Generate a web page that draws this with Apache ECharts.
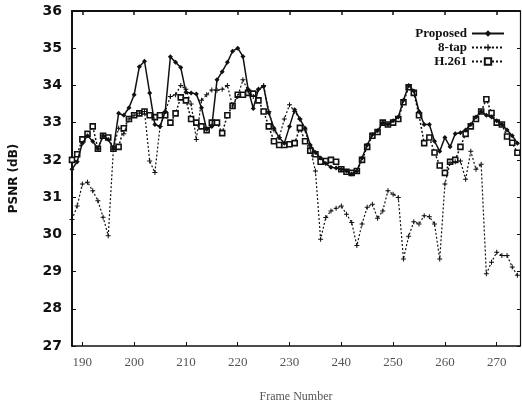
<!DOCTYPE html>
<html>
<head>
<meta charset="utf-8">
<script src="https://cdn.jsdelivr.net/npm/echarts@6/dist/echarts.min.js"></script>
<style>
  html, body { margin: 0; padding: 0; background: #fff; }
  #chart { width: 522px; height: 408px; }
</style>
</head>
<body>
<div id="chart"></div>
<script>
const frames = [
  188, 189, 190, 191, 192, 193, 194, 195, 196, 197,
  198, 199, 200, 201, 202, 203, 204, 205, 206, 207,
  208, 209, 210, 211, 212, 213, 214, 215, 216, 217,
  218, 219, 220, 221, 222, 223, 224, 225, 226, 227,
  228, 229, 230, 231, 232, 233, 234, 235, 236, 237,
  238, 239, 240, 241, 242, 243, 244, 245, 246, 247,
  248, 249, 250, 251, 252, 253, 254, 255, 256, 257,
  258, 259, 260, 261, 262, 263, 264, 265, 266, 267,
  268, 269, 270, 271, 272, 273, 274
];

const proposed = [
  31.75, 31.95, 32.45, 32.65, 32.5, 32.3, 32.65, 32.55, 32.3, 33.25,
  33.2, 33.4, 33.75, 34.5, 34.65, 33.8, 32.95, 32.9, 33.3, 34.77,
  34.62, 34.48, 33.82, 33.8, 33.77, 33.4, 32.82, 32.9, 34.15, 34.37,
  34.62, 34.92, 35.0, 34.78, 33.9, 33.38, 33.9, 33.97, 33.26, 32.85,
  32.6, 32.45, 32.9, 33.35, 33.1, 32.85, 32.4, 32.2, 32.05, 31.9,
  31.8, 31.78, 31.75, 31.7, 31.62, 31.7, 32.05, 32.4, 32.68, 32.78,
  33.0, 32.95, 33.05, 33.15, 33.6, 34.0, 33.85, 33.3, 32.95, 32.95,
  32.5, 32.23, 32.6, 32.35, 32.7, 32.73, 32.8, 32.95, 33.15, 33.3,
  33.2, 33.15, 33.05, 32.95, 32.8, 32.65, 32.45
];

const eightTap = [
  30.4, 30.76, 31.35, 31.4, 31.17, 30.9, 30.46, 29.96, 32.3, 32.85,
  32.7, 33.1, 33.2, 33.25, 33.3, 31.97, 31.66, 32.9, 33.3, 33.7,
  33.75, 34.0, 33.9, 33.5, 32.55, 33.6, 33.75, 33.88, 33.87, 33.9,
  34.0, 33.45, 33.7, 34.15, 33.85, 33.7, 33.9, 34.0, 33.3, 32.8,
  32.6, 33.1, 33.48, 33.3, 33.1, 32.8, 32.3, 31.7, 29.87, 30.45,
  30.63, 30.7, 30.76, 30.54, 30.32, 29.7, 30.28, 30.73, 30.81, 30.43,
  30.63, 31.17, 31.08, 30.99, 29.34, 29.95, 30.34, 30.28, 30.5, 30.47,
  30.28, 29.34, 31.35, 31.92, 31.95, 31.97, 31.48, 32.23, 31.75, 31.88,
  28.94, 29.25, 29.52, 29.43, 29.43, 29.12, 28.9
];

const h261 = [
  32.0, 32.15, 32.55, 32.7, 32.9, 32.3, 32.65, 32.6, 32.3, 32.35,
  32.85, 33.1, 33.2, 33.25, 33.3, 33.2, 33.15, 33.2, 33.2, 33.0,
  33.25, 33.68, 33.6, 33.1, 33.0, 32.9, 32.8, 33.0, 33.0, 32.72,
  33.2, 33.45, 33.75, 33.75, 33.8, 33.78, 33.6, 33.3, 32.9, 32.5,
  32.4, 32.4, 32.42, 32.45, 32.86, 32.5, 32.25, 32.15, 31.95, 31.97,
  32.0, 31.95, 31.75, 31.68, 31.65, 31.7, 32.0, 32.35, 32.65, 32.75,
  33.0, 32.95, 33.0, 33.1, 33.55, 33.95, 33.8, 33.2, 32.45, 32.6,
  32.2, 31.85, 31.65, 31.95, 32.0, 32.35, 32.7, 32.9, 33.1, 33.3,
  33.63, 33.26, 33.0, 32.95, 32.63, 32.46, 32.19
];

const xTicks = [190, 200, 210, 220, 230, 240, 250, 260, 270];

const pair = (ys) => frames.map((f, i) => [f, ys[i]]);
const plusPath = 'path://M4,0h2v4h4v2h-4v4h-2v-4h-4v-2h4z';

const chart = echarts.init(document.getElementById('chart'), null, { renderer: 'canvas' });

chart.setOption({
  animation: false,
  backgroundColor: '#fff',
  grid: { left: 72, right: 2, top: 11, bottom: 60, containLabel: false },
  legend: {
    orient: 'vertical',
    right: 12,
    top: 22,
    align: 'right',
    itemWidth: 32,
    itemHeight: 8,
    itemGap: 1,
    textStyle: { fontFamily: 'Liberation Serif', fontWeight: 'bold', fontSize: 13, color: '#111' },
    data: ['Proposed', '8-tap', 'H.261']
  },
  xAxis: [
    {
      type: 'value', min: 188, max: 274.5, position: 'bottom',
      name: 'Frame Number', nameLocation: 'middle', nameGap: 45,
      nameTextStyle: { fontFamily: 'Liberation Serif', fontSize: 12, color: '#555' },
      axisLine: { show: true, lineStyle: { color: '#111', width: 1.6 } },
      axisTick: { inside: true, length: 4, customValues: xTicks, lineStyle: { color: '#111' } },
      axisLabel: { customValues: xTicks, margin: 10, fontFamily: 'Liberation Serif', fontSize: 13, color: '#555' },
      splitLine: { show: false }
    },
    {
      type: 'value', min: 188, max: 274.5, position: 'top',
      axisLine: { show: true, lineStyle: { color: '#111', width: 2 } },
      axisTick: { inside: true, length: 4, customValues: xTicks, lineStyle: { color: '#111', width: 1.5 } },
      axisLabel: { show: false },
      splitLine: { show: false }
    }
  ],
  yAxis: [
    {
      type: 'value', min: 27, max: 36, interval: 1, position: 'left',
      name: 'PSNR (dB)', nameLocation: 'middle', nameGap: 52,
      nameTextStyle: { fontFamily: 'DejaVu Sans', fontWeight: 'bold', fontSize: 12, color: '#111' },
      axisLine: { show: true, lineStyle: { color: '#111', width: 2 } },
      axisTick: { inside: true, length: 4, lineStyle: { color: '#111' } },
      axisLabel: { margin: 10, fontFamily: 'DejaVu Sans', fontWeight: 'bold', fontSize: 14, color: '#111' },
      splitLine: { show: false }
    },
    {
      type: 'value', min: 27, max: 36, interval: 1, position: 'right',
      axisLine: { show: true, lineStyle: { color: '#111', width: 1.2 } },
      axisTick: { inside: true, length: 3, lineStyle: { color: '#111' } },
      axisLabel: { show: false },
      splitLine: { show: false }
    }
  ],
  series: [
    {
      name: 'Proposed', type: 'line', data: pair(proposed),
      symbol: 'diamond', symbolSize: 5,
      lineStyle: { color: '#111', width: 1.5, type: 'solid' },
      itemStyle: { color: '#111' },
      z: 4
    },
    {
      name: '8-tap', type: 'line', data: pair(eightTap),
      symbol: plusPath, symbolSize: 5,
      lineStyle: { color: '#111', width: 1.2, type: [2, 2] },
      itemStyle: { color: '#111' },
      z: 3
    },
    {
      name: 'H.261', type: 'line', data: pair(h261),
      symbol: 'rect', symbolSize: 5,
      lineStyle: { color: '#111', width: 1.5, type: [2, 2] },
      itemStyle: { color: '#fff', borderColor: '#111', borderWidth: 1.6 },
      z: 2
    }
  ]
});
</script>
</body>
</html>
